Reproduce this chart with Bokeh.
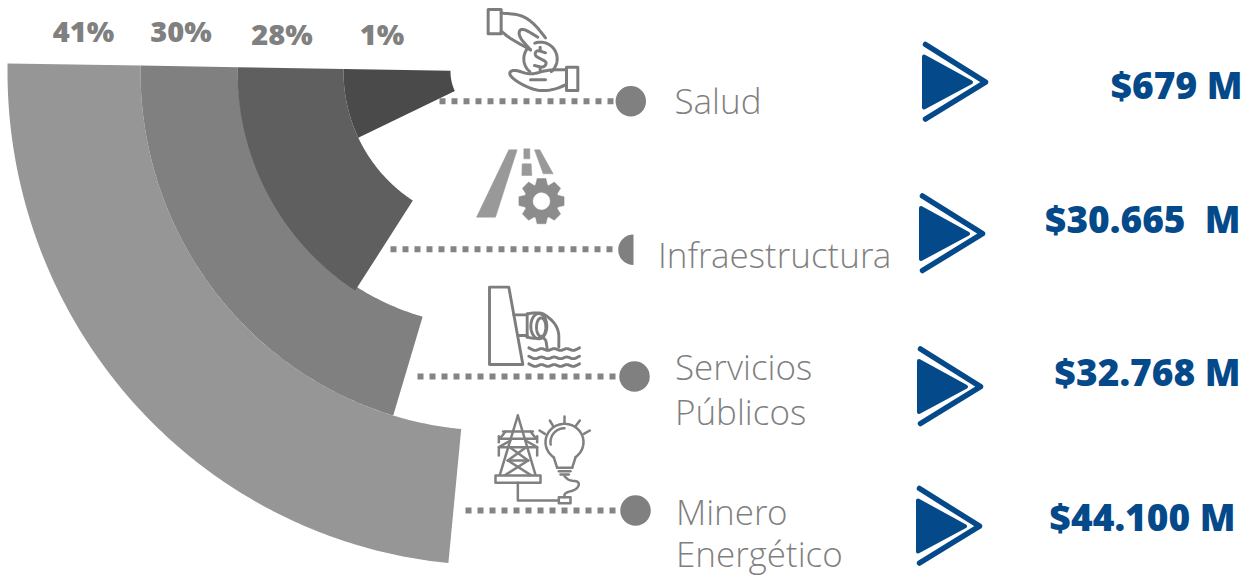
import numpy as np
from bokeh.plotting import figure
from bokeh.models import Range1d
from bokeh.core.properties import value
from bokeh.embed import file_html
from bokeh.resources import INLINE

# ---- data ----
categories = ["Minero Energético", "Servicios Públicos", "Infraestructura", "Salud"]
shares = ["41%", "30%", "28%", "1%"]
amounts = ["$44.100 M", "$32.768 M", "$30.665\u00a0 M", "$679 M"]
band_sweep_deg = [85.4, 74.2, 58.0, 26.4]
band_outer = [488, 355, 258, 152]
band_inner = [355, 258, 152, 45]
band_inner_end = [355, 253, 152, 45]
band_colors = ["#969696", "#808080", "#5f5f5f", "#4a4a4a"]

GREY = "#808080"
BLUE = "#044a8a"
THIN = "Open Sans Light"
BOLD = "Open Sans ExtraBold"

p = figure(width=1255, height=577, x_range=Range1d(0, 1255), y_range=Range1d(-577, 0),
           output_backend="svg", toolbar_location=None, min_border=0,
           x_axis_location=None, y_axis_location=None, outline_line_color=None)
p.grid.visible = False

CX, CY = 495, 71
START = 179.06
STRETCH = 1.012


def Y(v):
    return -np.asarray(v, dtype=float)


# ---- bands ----
band_xs, band_ys = [], []
for r0, r1, r1e, sweep in zip(band_outer, band_inner, band_inner_end, band_sweep_deg):
    t = np.radians(np.linspace(START, START + sweep, 160))
    inner = np.linspace(r1, r1e, 160)
    # y is negated: the sweep runs from the left side down towards the bottom
    ox, oy = CX + r0 * np.cos(t), -CY + r0 * STRETCH * np.sin(t)
    ix, iy = CX + inner * np.cos(t), -CY + inner * STRETCH * np.sin(t)
    band_xs.append(list(np.r_[ox, ix[::-1]]))
    band_ys.append(list(np.r_[oy, iy[::-1]]))
p.patches(band_xs, band_ys, fill_color=band_colors, line_color=None)


def smooth(pts, n=3):
    a = np.array(pts, dtype=float)
    for _ in range(n):
        q = a[:-1] * 0.75 + a[1:] * 0.25
        r = a[:-1] * 0.25 + a[1:] * 0.75
        m = np.empty((len(q) * 2, 2))
        m[0::2], m[1::2] = q, r
        a = np.vstack([a[0], m, a[-1]])
    return a


def arc(cx, cy, rx, ry, a0, a1, n=40):
    t = np.radians(np.linspace(a0, a1, n))
    return np.c_[cx + rx * np.cos(t), cy + ry * np.sin(t)]


def stroke(paths, ox, oy, k=1 / 3, color="#7d7d7d", w=2.4):
    xs, ys = [], []
    for path in paths:
        a = np.asarray(path, dtype=float)
        xs.append(list(ox + a[:, 0] * k))
        ys.append(list(-(oy + a[:, 1] * k)))
    p.multi_line(xs, ys, line_color=color, line_width=w, line_cap="round", line_join="round")


def fill(polys, ox, oy, color, k=1 / 3):
    xs, ys = [], []
    for path in polys:
        a = np.asarray(path, dtype=float)
        xs.append(list(ox + a[:, 0] * k))
        ys.append(list(-(oy + a[:, 1] * k)))
    p.patches(xs, ys, fill_color=color, line_color=color, line_width=0.5)


def rect(x0, y0, x1, y1):
    return [(x0, y0), (x1, y0), (x1, y1), (x0, y1), (x0, y0)]


# ---- connectors ----
conn_y = [510, 376, 248.7, 100.7]
conn_x0 = [465, 417, 390, 439]
conn_x1 = [620, 620, 618, 615]
dot_x = [635, 634, None, 630.3]
dot_y = [510, 376, None, 100.7]
for x0, x1, y in zip(conn_x0, conn_x1, conn_y):
    p.line([x0, x1], [-y, -y], line_color="#848484", line_width=6, line_dash="6 6", line_cap="butt")
p.scatter([x for x in dot_x if x], [-y for y in dot_y if y], size=30.5, marker="circle",
          fill_color=GREY, line_color=None)
p.wedge(x=[633], y=[-249.3], radius=15.3, start_angle=np.pi / 2, end_angle=3 * np.pi / 2,
        direction="anticlock", fill_color=GREY, line_color=None)

# ---- hand icon ----
stroke([
    rect(173, 27, 212, 100),
    smooth([(212, 38), (270, 42), (310, 68), (345, 112)]),
    smooth([(212, 92), (240, 115), (300, 148)]),
    smooth([(300, 148), (262, 105), (272, 80), (322, 110)]),
    arc(330, 175, 50, 50, -110, 50),
    arc(330, 175, 50, 50, 130, 215),
    smooth([(345, 157), (318, 148), (312, 165), (330, 175), (350, 185), (340, 202), (312, 195)]),
    [(329, 140), (329, 149)], [(329, 202), (329, 210)],
    rect(408, 200, 442, 270),
    smooth([(408, 208), (350, 208), (300, 224), (250, 206), (232, 220), (265, 248), (320, 272), (370, 268), (408, 252)]),
    [(300, 238), (345, 238)],
], 430, 0, w=3.0)

# ---- road and gear icon ----
RG = "#999999"
fill([
    [(385, 28), (410, 28), (345, 230), (288, 230)],
    [(430, 25), (448, 25), (448, 55), (430, 55)],
    [(425, 70), (452, 70), (454, 105), (424, 105)],
    [(462, 28), (478, 28), (518, 100), (488, 100)],
], 380, 140, RG)
gear = []
for i in range(8):
    a = i * 45 - 90
    for da, r in [(-20, 52), (-11, 69), (11, 69), (20, 52)]:
        t = np.radians(a + da)
        gear.append((483 + r * np.cos(t), 182 + r * np.sin(t)))
fill([gear], 380, 140, "#8c8c8c")
fill([arc(483, 182, 25, 25, 0, 360)], 380, 140, "#ffffff")

# ---- dam icon ----
waves = []
for wy in (207, 232, 255):
    pts = [(355 + i * 19, wy + (5 if i % 2 else -5)) for i in range(9)]
    waves.append(smooth(pts))
stroke([
    [(237, 20), (295, 20), (337, 252), (237, 252), (237, 20)],
    [(310, 103), (350, 103)], [(323, 165), (350, 165)],
    arc(385, 137, 24, 38, 0, 360),
    arc(392, 140, 14, 28, 0, 360),
    smooth([(350, 100), (370, 97), (400, 97), (445, 140), (445, 200)]),
    smooth([(350, 170), (375, 175), (405, 170), (410, 205)]),
    [(350, 100), (350, 170)],
] + waves, 410, 280, w=2.9)

# ---- tower and bulb icon ----
stroke([
    [(172, 30), (118, 208)], [(172, 30), (225, 208)],
    [(128, 78), (217, 78)], [(118, 100), (227, 100)], [(135, 78), (118, 100)], [(210, 78), (227, 100)],
    [(115, 125), (230, 125)], [(115, 125), (150, 105)], [(230, 125), (195, 105)],
    [(148, 125), (203, 165)], [(197, 125), (142, 165)],
    [(142, 165), (210, 208)], [(203, 165), (135, 208)],
    [(142, 165), (203, 165)],
    [(115, 92), (115, 110)], [(230, 92), (230, 110)],
    [(115, 130), (115, 150)], [(230, 130), (230, 150)],
    rect(105, 210, 240, 232),
    [(172, 232), (172, 285), (295, 285)],
    rect(295, 275, 330, 293),
    smooth([(312, 275), (312, 262), (350, 252), (358, 228), (325, 225), (312, 212)]),
    arc(312, 110, 57, 55, 125, 415),
    arc(312, 110, 42, 42, 170, 270),
    [(280, 156), (290, 187)], [(345, 156), (335, 187)],
    [(290, 187), (335, 187)], [(295, 197), (330, 197)], [(300, 207), (325, 207)],
    [(312, 33), (312, 50)], [(268, 45), (278, 62)], [(358, 45), (345, 62)],
    [(237, 75), (253, 85)], [(388, 75), (370, 85)],
], 460, 405, color="#808080", w=2.5)

# ---- arrows ----
arrow_dx = [-6, -5, -3, 0]
arrow_dy = [444, 304.5, 151.5, 0]
for dx, dy in zip(arrow_dx, arrow_dy):
    tx = [923.5 + dx, 970.5 + dx, 923.5 + dx]
    ty = [-(56 + dy), -(81.7 + dy), -(107 + dy)]
    p.patch(tx, ty, fill_color=BLUE, line_color=BLUE, line_width=4, line_join="round")
    p.line([925 + dx, 985 + dx, 925 + dx], [-(44 + dy), -(81.7 + dy), -(118.5 + dy)],
           line_color=BLUE, line_width=5.5, line_cap="round", line_join="round")

# ---- texts ----
pct_x = [83, 180.5, 281.5, 381.5]
pct_y = [30, 30, 33, 33]
p.text(pct_x, list(Y(pct_y)), text=shares, text_align="center", text_baseline="middle",
       text_color=GREY, text_font=value(BOLD), text_font_size="29px")

label_lines = [
    (categories[3], 674, 100),
    (categories[2], 657.5, 254),
    (categories[1].split()[0], 674.5, 366),
    (categories[1].split()[1], 674.5, 411),
    (categories[0].split()[0], 675.5, 511),
    (categories[0].split()[1], 675.5, 553),
]
p.text([l[1] for l in label_lines], [-l[2] for l in label_lines], text=[l[0] for l in label_lines],
       text_align="left", text_baseline="middle", text_color="#7f7f7f",
       text_font=value(THIN), text_font_size="35px")

amt_x = [1235, 1240, 1240, 1242]
amt_y = [516, 371, 218, 84]
p.text(amt_x, list(Y(amt_y)), text=amounts, text_align="right", text_baseline="middle",
       text_color=BLUE, text_font=value(BOLD), text_font_size="37px")

open("out.html", "w").write(file_html(p, INLINE))
